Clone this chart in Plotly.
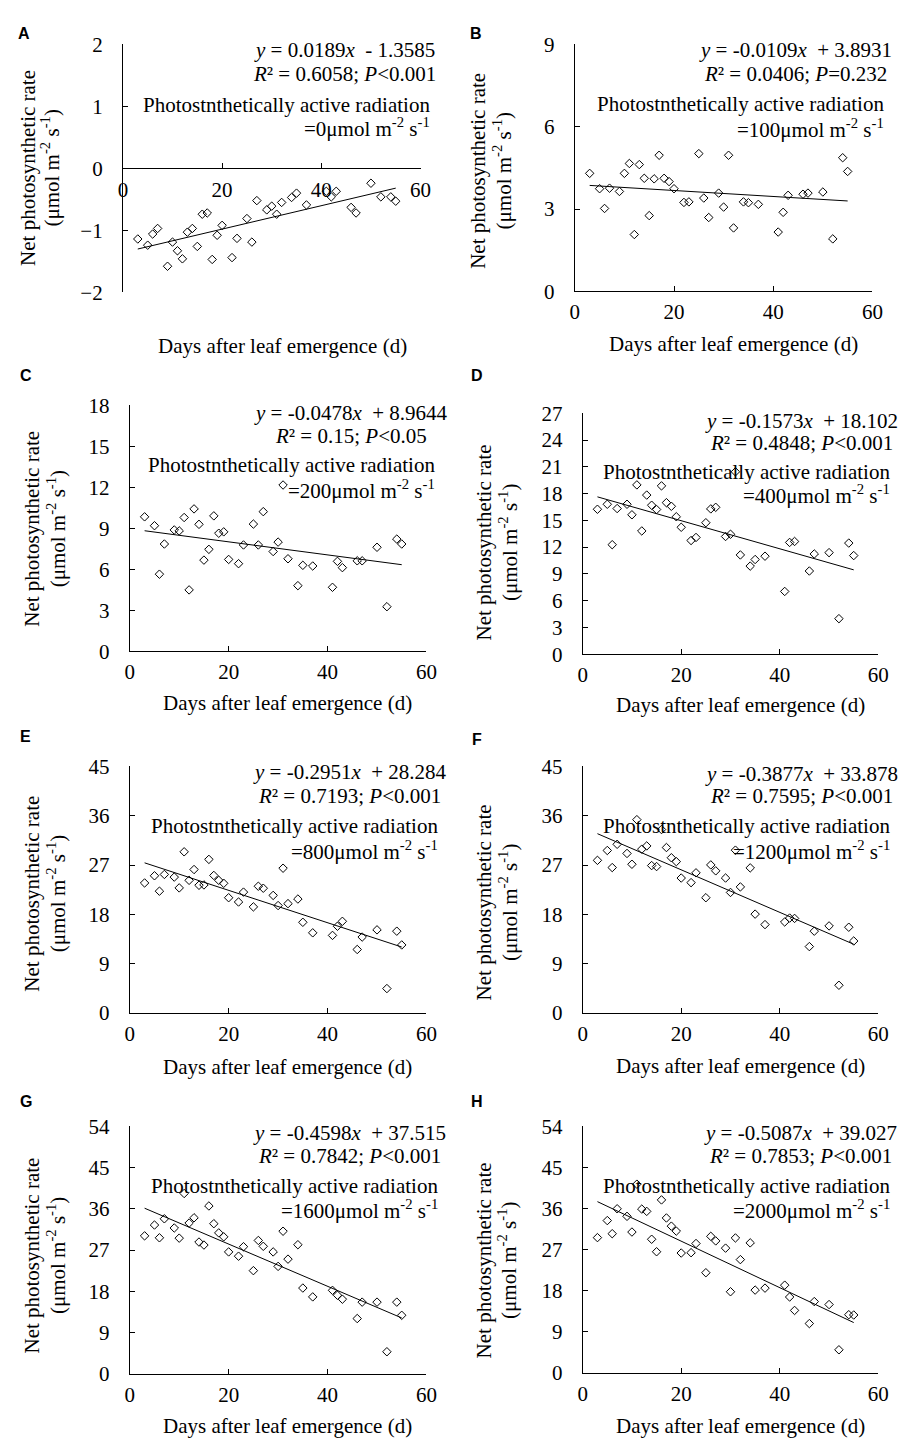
import plotly.graph_objects as go

# ---------------- data ----------------
days = [3, 5, 6, 7, 9, 10, 11, 12, 13, 14, 15, 16, 17, 18, 19, 20, 22, 23, 25, 26, 27,
        29, 30, 31, 32, 34, 35, 37, 41, 42, 43, 46, 47, 50, 52, 54, 55]

pn_A = [-1.14, -1.24, -1.06, -0.97, -1.58, -1.19, -1.33, -1.46, -1.03, -0.97, -1.26, -0.74,
        -0.72, -1.47, -1.08, -0.92, -1.44, -1.13, -0.81, -1.19, -0.52, -0.67, -0.61, -0.74,
        -0.55, -0.47, -0.40, -0.59, -0.37, -0.46, -0.37, -0.63, -0.72, -0.24, -0.46, -0.46, -0.53]
pn_B = [4.30, 3.74, 3.02, 3.76, 3.64, 4.30, 4.66, 2.07, 4.62, 4.12, 2.76, 4.10, 4.96, 4.12,
        4.00, 3.74, 3.24, 3.26, 5.02, 3.40, 2.69, 3.58, 3.07, 4.96, 2.31, 3.26, 3.23, 3.17,
        2.16, 2.88, 3.50, 3.54, 3.58, 3.62, 1.91, 4.87, 4.37]
pn_C = [9.84, 9.19, 5.64, 7.85, 8.88, 8.81, 9.79, 4.49, 10.42, 9.29, 6.67, 7.46, 9.91, 8.64,
        8.74, 6.72, 6.41, 7.78, 9.31, 7.78, 10.22, 7.30, 7.99, 12.17, 6.77, 4.80, 6.29, 6.24,
        4.68, 6.58, 6.12, 6.62, 6.62, 7.61, 3.26, 8.21, 7.85]
pn_D = [16.24, 16.80, 12.27, 16.32, 16.80, 15.62, 18.97, 13.81, 17.83, 16.69, 16.21, 18.86,
        16.98, 16.57, 15.40, 14.22, 12.74, 13.08, 14.73, 16.28, 16.46, 13.19, 13.44, 20.44,
        11.12, 9.87, 10.61, 10.98, 7.03, 12.52, 12.63, 9.32, 11.23, 11.38, 3.98, 12.45, 11.05]
pn_E = [23.73, 25.04, 22.23, 25.28, 24.80, 22.83, 29.41, 24.21, 26.18, 23.31, 23.37, 28.03,
        25.10, 24.21, 23.67, 21.04, 20.26, 22.06, 19.37, 23.13, 22.77, 21.46, 19.61, 26.42,
        19.96, 20.80, 16.56, 14.64, 14.17, 15.84, 16.74, 11.60, 13.87, 15.18, 4.48, 14.94, 12.43]
pn_F = [27.85, 29.65, 26.54, 30.78, 29.11, 27.14, 35.27, 29.89, 30.48, 26.90, 26.72, 33.47,
        30.19, 28.33, 27.62, 24.63, 23.79, 25.58, 21.04, 27.02, 25.94, 24.63, 22.00, 29.71,
        23.01, 26.48, 18.05, 16.14, 16.62, 17.33, 17.27, 12.13, 14.94, 15.90, 5.08, 15.66, 13.15]
pn_G = [30.11, 32.47, 29.69, 33.83, 31.83, 29.61, 39.34, 32.90, 34.05, 28.76, 28.11, 36.62,
        32.76, 30.76, 29.90, 26.61, 25.68, 27.75, 22.53, 29.11, 27.83, 26.61, 23.46, 31.12,
        25.04, 28.18, 18.74, 16.81, 18.24, 17.17, 16.31, 12.09, 15.67, 15.67, 4.86, 15.67, 12.80]
pn_H = [29.63, 33.36, 30.49, 35.94, 34.29, 30.85, 41.32, 35.87, 35.37, 29.27, 26.54, 37.88,
        33.93, 32.14, 31.06, 26.26, 26.33, 28.34, 21.95, 29.91, 28.91, 27.33, 17.79, 29.56,
        24.82, 28.48, 18.15, 18.58, 19.23, 16.64, 13.70, 10.83, 15.64, 14.99, 5.09, 12.77, 12.70]

labels = ["A", "B", "C", "D", "E", "F", "G", "H"]
series = [pn_A, pn_B, pn_C, pn_D, pn_E, pn_F, pn_G, pn_H]
slopes = [0.0189, -0.0109, -0.0478, -0.1573, -0.2951, -0.3877, -0.4598, -0.5087]
intercepts = [-1.3585, 3.8931, 8.9644, 18.102, 28.284, 33.878, 37.515, 39.027]
eq_texts = ["<i>y</i> = 0.0189<i>x</i>  - 1.3585",
            "<i>y</i> = -0.0109<i>x</i>  + 3.8931",
            "<i>y</i> = -0.0478<i>x</i>  + 8.9644",
            "<i>y</i> = -0.1573<i>x</i>  + 18.102",
            "<i>y</i> = -0.2951<i>x</i>  + 28.284",
            "<i>y</i> = -0.3877<i>x</i>  + 33.878",
            "<i>y</i> = -0.4598<i>x</i>  + 37.515",
            "<i>y</i> = -0.5087<i>x</i>  + 39.027"]
stat_texts = ["<i>R</i>² = 0.6058; <i>P</i>&lt;0.001",
              "<i>R</i>² = 0.0406; <i>P</i>=0.232",
              "<i>R</i>² = 0.15; <i>P</i>&lt;0.05",
              "<i>R</i>² = 0.4848; <i>P</i>&lt;0.001",
              "<i>R</i>² = 0.7193; <i>P</i>&lt;0.001",
              "<i>R</i>² = 0.7595; <i>P</i>&lt;0.001",
              "<i>R</i>² = 0.7842; <i>P</i>&lt;0.001",
              "<i>R</i>² = 0.7853; <i>P</i>&lt;0.001"]
par_values = [0, 100, 200, 400, 800, 1200, 1600, 2000]
y_ranges = [(-2, 2), (0, 9), (0, 18), (0, 27), (0, 45), (0, 45), (0, 54), (0, 54)]
y_dticks = [1, 3, 3, 3, 9, 9, 9, 9]
x_ticks = [0, 20, 40, 60]

x_title = "Days after leaf emergence (d)"
y_title_1 = "Net photosynthetic rate"
y_title_2 = "(μmol m<sup>-2</sup> s<sup>-1</sup>)"
par_title = "Photostnthetically active radiation"

# ---------------- layout (pixel geometry) ----------------
W, H = 909, 1448
def px(x):
    return x / W
def py(y):
    return 1 - y / H

xdoms = [(120, 423), (580, 883), (127, 429), (588, 889), (127, 429), (588, 889), (127, 429), (588, 889)]
ydoms = [(33, 285), (33, 284), (400, 650), (408, 653), (767, 1018), (767, 1018), (1133, 1385), (1133, 1384)]
label_pos = [(19, 22), (479, 22), (21, 370), (480, 370), (21, 737), (480, 740), (21, 1108), (480, 1108)]
ytitle_x = [(24, 46), (482, 506), (28, 52), (488, 512), (28, 52), (488, 512), (28, 52), (488, 512)]
ytitle_y = [159, 162, 526, 539, 897, 905, 1265, 1269]
xtitle_pos = [(282, 340), (742, 338), (288, 703), (749, 705), (288, 1073), (749, 1072), (288, 1438), (749, 1438)]
eq_cx = [346, 805, 352, 811, 351, 811, 351, 810]
par_rx = [435, 897, 440, 903, 443, 903, 443, 903]
text_rows = [(39, 63, 95, 117), (39, 63, 94, 118), (408, 431, 461, 486), (416, 438, 468, 491),
             (773, 797, 828, 853), (775, 797, 828, 853), (1140, 1163, 1194, 1218), (1140, 1163, 1194, 1218)]

SERIF = "Liberation Serif"
FS = 21

fig = go.Figure()
annotations = []
layout = {}

for i in range(8):
    sfx = "" if i == 0 else str(i + 1)
    xa, ya = "x" + sfx, "y" + sfx
    fig.add_trace(go.Scatter(
        x=days, y=series[i], mode="markers", xaxis=xa, yaxis=ya,
        marker=dict(symbol="diamond-open", size=6.5, color="black", line=dict(width=1, color="black")),
        showlegend=False, cliponaxis=False))
    lx = [days[0], days[-1]]
    ly = [slopes[i] * v + intercepts[i] for v in lx]
    fig.add_trace(go.Scatter(
        x=lx, y=ly, mode="lines", xaxis=xa, yaxis=ya,
        line=dict(color="black", width=1), showlegend=False))

    x0, x1 = xdoms[i]
    y0, y1 = ydoms[i]
    xaxis = dict(domain=[px(x0), px(x1)], range=[0, 60], tickvals=x_ticks,
                 ticks="inside", ticklen=5, tickwidth=1, tickcolor="black",
                 showline=True, linecolor="black", linewidth=1, showgrid=False, zeroline=False,
                 tickfont=dict(family=SERIF, size=FS, color="black"), ticklabelstandoff=2,
                 anchor=ya)
    if i == 0:
        xaxis.update(anchor="free", position=py((y0 + y1) / 2))
    yaxis = dict(domain=[py(y1), py(y0)], range=list(y_ranges[i]), dtick=y_dticks[i],
                 tick0=y_ranges[i][0],
                 ticks="inside", ticklen=5, tickwidth=1, tickcolor="black",
                 showline=True, linecolor="black", linewidth=1, showgrid=False, zeroline=False,
                 tickfont=dict(family=SERIF, size=FS, color="black"), ticklabelstandoff=15,
                 anchor=xa)
    layout["xaxis" + sfx] = xaxis
    layout["yaxis" + sfx] = yaxis

    font = dict(family=SERIF, size=FS, color="black")
    # panel label
    annotations.append(dict(text="<b>%s</b>" % labels[i], x=px(label_pos[i][0]), y=py(label_pos[i][1]),
                            xref="paper", yref="paper", showarrow=False, xanchor="center", yanchor="middle",
                            font=dict(family="Liberation Sans", size=16, color="black")))
    # y title lines
    for txt, xx in zip([y_title_1, y_title_2], ytitle_x[i]):
        annotations.append(dict(text=txt, x=px(xx), y=py(ytitle_y[i]), xref="paper", yref="paper",
                                showarrow=False, textangle=-90, xanchor="center", yanchor="middle", font=font))
    # x title
    annotations.append(dict(text=x_title, x=px(xtitle_pos[i][0]), y=py(xtitle_pos[i][1]),
                            xref="paper", yref="paper", showarrow=False, xanchor="center",
                            yanchor="middle", font=font))
    rows = text_rows[i]
    annotations.append(dict(text=eq_texts[i], x=px(eq_cx[i]), y=py(rows[0]), xref="paper", yref="paper",
                            showarrow=False, xanchor="center", yanchor="middle", font=font))
    annotations.append(dict(text=stat_texts[i], x=px(eq_cx[i]), y=py(rows[1]), xref="paper", yref="paper",
                            showarrow=False, xanchor="center", yanchor="middle", font=font))
    annotations.append(dict(text=par_title, x=px(par_rx[i]), y=py(rows[2]), xref="paper", yref="paper",
                            showarrow=False, xanchor="right", yanchor="middle", font=font))
    annotations.append(dict(text="=%dμmol m<sup>-2</sup> s<sup>-1</sup>" % par_values[i],
                            x=px(par_rx[i]), y=py(rows[3]), xref="paper", yref="paper",
                            showarrow=False, xanchor="right", yanchor="middle", font=font))

fig.update_layout(width=W, height=H, margin=dict(l=0, r=0, t=0, b=0),
                  paper_bgcolor="white", plot_bgcolor="white",
                  annotations=annotations, **layout)

fig.write_html("out.html")
